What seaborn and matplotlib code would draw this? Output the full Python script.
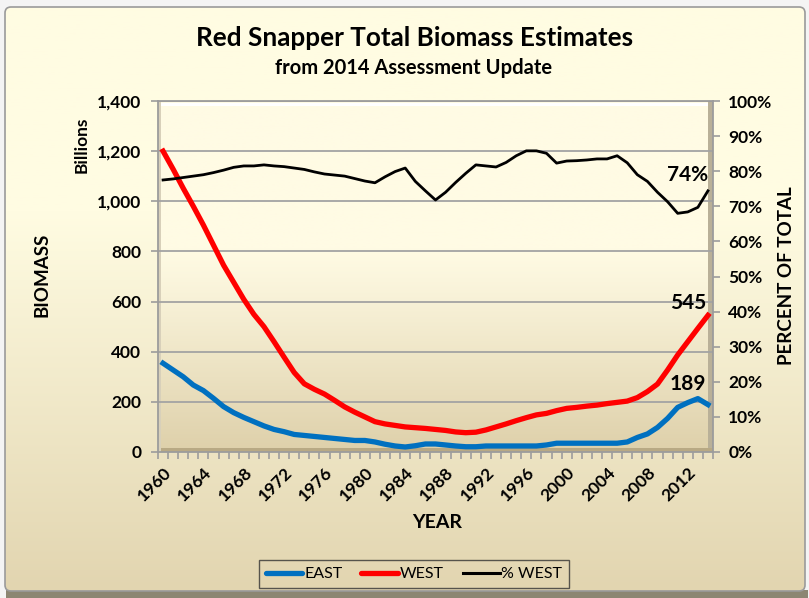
import numpy as np
import pandas as pd
import matplotlib
matplotlib.use("Agg")
import matplotlib.pyplot as plt
import seaborn as sns
from matplotlib.patches import FancyBboxPatch, Rectangle
from matplotlib.lines import Line2D
from matplotlib.ticker import FixedLocator, FuncFormatter

# ---------------- data ----------------
years = list(range(1960, 2015))
east = [354, 327, 300, 267, 245, 214, 181, 157, 138, 121,
        104, 90, 81, 70, 66, 62, 58, 54, 50, 46,
        46, 40, 31, 24, 20, 25, 32, 32, 28, 24,
        21, 21, 24, 24, 24, 24, 24, 24, 28, 35,
        35, 35, 35, 35, 35, 35, 40, 58, 72, 98,
        134, 178, 197, 213, 189]
west = [1200, 1128, 1052, 980, 905, 825, 745, 677, 609, 549,
        500, 440, 378, 317, 272, 250, 231, 206, 180, 159,
        140, 121, 112, 106, 100, 97, 94, 90, 86, 80,
        77, 79, 88, 100, 112, 125, 137, 148, 154, 165,
        174, 178, 183, 187, 193, 198, 203, 217, 241, 271,
        327, 387, 440, 493, 545]
pct_west = [77.5, 77.8, 78.2, 78.6, 79.0, 79.6, 80.3, 81.1, 81.5, 81.5,
            81.8, 81.5, 81.3, 80.9, 80.5, 79.8, 79.2, 78.9, 78.6, 77.9,
            77.2, 76.7, 78.4, 79.9, 80.9, 77.1, 74.4, 71.8, 74.0, 76.8,
            79.4, 81.8, 81.5, 81.2, 82.5, 84.4, 85.8, 85.8, 85.1, 82.3,
            82.9, 83.0, 83.2, 83.5, 83.5, 84.4, 82.4, 79.0, 77.1, 74.0,
            71.3, 68.0, 68.4, 69.7, 74.4]
year_labels = list(range(1960, 2013, 4))
left_ticks = list(range(0, 1401, 200))
right_ticks = list(range(0, 101, 10))
end_labels = ["189", "545", "74%"]

df = pd.DataFrame({"year": years, "EAST": east, "WEST": west, "% WEST": pct_west})

FONT = ["Lato", "DejaVu Sans"]
plt.rcParams["font.family"] = FONT

W, H = 809, 598
fig = plt.figure(figsize=(W / 100, H / 100), dpi=100)
fig.patch.set_facecolor("#F4F4F4")

def fx(px):
    return px / W

def fy(py):
    return 1 - py / H

# ---------------- figure background with border ----------------
bg = fig.add_axes([0, 0, 1, 1], zorder=-10)
bg.set_xlim(0, W)
bg.set_ylim(H, 0)
bg.axis("off")
grad = np.linspace(0, 1, 256).reshape(-1, 1)
top_c = np.array([255, 252, 226]) / 255
bot_c = np.array([226, 213, 176]) / 255
t = np.clip((grad - 0.35) / 0.65, 0, 1)
img = top_c * (1 - t)[..., None] + bot_c * t[..., None]
img = img.reshape(256, 1, 3)
shadow = Rectangle((6, 590), 802, 8, facecolor="#8C8672", edgecolor="none", zorder=0)
bg.add_patch(shadow)
frame = FancyBboxPatch((5, 7), 800, 584, boxstyle="round,pad=0,rounding_size=6",
                       facecolor="none", edgecolor="#9A9A9A", linewidth=1.2, zorder=3)
bg.add_patch(frame)
im = bg.imshow(img, extent=(5, 805, 591, 7), aspect="auto", zorder=1)
im.set_clip_path(frame)

# ---------------- plot area ----------------
ax = fig.add_axes([fx(158), fy(452), fx(713) - fx(158), fy(101) - fy(452)])
ax.set_facecolor("none")
pgrad = np.linspace(0, 1, 256)
tp = np.clip((pgrad - 0.42) / 0.58, 0, 1) ** 1.1
ptop = np.array([255, 251, 228]) / 255
pbot = np.array([222, 208, 170]) / 255
pimg = (ptop * (1 - tp)[:, None] + pbot * tp[:, None]).reshape(256, 1, 3)
ax.imshow(pimg, extent=(0, 1, 0, 1), origin="upper", transform=ax.transAxes,
          aspect="auto", zorder=0)
# bevel effects
ax.add_patch(Rectangle((0, 0.985), 1, 0.01, transform=ax.transAxes, facecolor="white",
                       edgecolor="none", zorder=0.5))
ax.add_patch(Rectangle((0.991, 0), 0.009, 1, transform=ax.transAxes, facecolor="#B9B098",
                       edgecolor="none", zorder=0.5))
ax.add_patch(Rectangle((0, 0), 1, 0.012, transform=ax.transAxes, facecolor="#B8A984",
                       edgecolor="none", zorder=0.5))
ax.add_patch(Rectangle((0, 0), 0.005, 1, transform=ax.transAxes, facecolor="#D8D0BA",
                       edgecolor="none", zorder=0.5))

for y in left_ticks[1:]:
    ax.axhline(y, color="#A3A3A3", lw=1.3, zorder=1)

sns.lineplot(data=df, x="year", y="EAST", ax=ax, color="#0070C0", linewidth=3.8,
             zorder=3, legend=False)
sns.lineplot(data=df, x="year", y="WEST", ax=ax, color="#FF0000", linewidth=3.8,
             zorder=3, legend=False)

ax.set_xlim(1959.5, 2014.5)
ax.set_ylim(0, 1400)
ax.set_xlabel("")
ax.set_ylabel("")

for s in ["top", "left", "right", "bottom"]:
    ax.spines[s].set_color("#9C9C9C")
    ax.spines[s].set_linewidth(1.3)

ax.yaxis.set_major_locator(FixedLocator(left_ticks))
ax.yaxis.set_major_formatter(FuncFormatter(lambda v, p: f"{int(v):,}"))
ax.tick_params(axis="y", direction="out", length=5, width=1.2, color="#9C9C9C",
               pad=7, labelsize=12.5)
for lab in ax.get_yticklabels():
    lab.set_fontweight("bold")

ax.xaxis.set_major_locator(FixedLocator(year_labels))
ax.xaxis.set_minor_locator(FixedLocator([y + 0.5 for y in range(1959, 2015)]))
ax.tick_params(axis="x", which="major", length=0, pad=9, labelsize=12.5)
ax.tick_params(axis="x", which="minor", direction="out", length=5, width=1.2,
               color="#9C9C9C")
ax.set_xticklabels([str(y) for y in year_labels], rotation=45, ha="right",
                   rotation_mode="anchor", fontweight="bold")

# ---------------- right axis ----------------
ax2 = ax.twinx()
ax2.set_facecolor("none")
sns.lineplot(data=df, x="year", y="% WEST", ax=ax2, color="black", linewidth=2.0,
             zorder=4, legend=False)
ax2.set_ylim(0, 100)
ax2.set_xlim(1959.5, 2014.5)
ax2.set_ylabel("")
ax2.yaxis.set_major_locator(FixedLocator(right_ticks))
ax2.yaxis.set_major_formatter(FuncFormatter(lambda v, p: f"{int(v)}%"))
ax2.tick_params(axis="y", direction="out", length=5, width=1.2, color="#9C9C9C",
                pad=6, labelsize=12.5)
for lab in ax2.get_yticklabels():
    lab.set_fontweight("bold")
for s in ["top", "left", "right", "bottom"]:
    ax2.spines[s].set_visible(False)

# end-value labels
ax.text(2012, 271, end_labels[0], ha="center", va="center", fontsize=15,
        fontweight="bold", zorder=6)
ax.text(2012, 594, end_labels[1], ha="center", va="center", fontsize=15,
        fontweight="bold", zorder=6)
ax2.text(2012, 78.8, end_labels[2], ha="center", va="center", fontsize=15,
         fontweight="bold", zorder=6)

# ---------------- titles and axis labels ----------------
fig.text(fx(415), fy(38), "Red Snapper Total Biomass Estimates", ha="center",
         va="center", fontsize=18.8, fontweight="bold")
fig.text(fx(414), fy(68), "from 2014 Assessment Update", ha="center", va="center",
         fontsize=14.5, fontweight="bold")
fig.text(fx(82), fy(145), "Billions", rotation=90, ha="center", va="center",
         fontsize=12.5, fontweight="bold")
fig.text(fx(42), fy(275), "BIOMASS", rotation=90, ha="center", va="center",
         fontsize=13.5, fontweight="bold")
fig.text(fx(787), fy(276), "PERCENT OF TOTAL", rotation=90, ha="center",
         va="center", fontsize=13.5, fontweight="bold")
fig.text(fx(437), fy(523), "YEAR", ha="center", va="center", fontsize=14,
         fontweight="bold")

# ---------------- legend ----------------
handles = [Line2D([], [], color="#0070C0", lw=3.8, solid_capstyle="round"),
           Line2D([], [], color="#FF0000", lw=3.8, solid_capstyle="round"),
           Line2D([], [], color="black", lw=2.2)]
leg = fig.legend(handles, ["EAST", "WEST", "% WEST"], loc="center",
                 bbox_to_anchor=(fx(414), fy(574)), ncol=3, frameon=True,
                 fontsize=11.5, handlelength=2.3, handletextpad=0.1,
                 columnspacing=1.2, borderpad=0.45, fancybox=False)
leg.get_frame().set_facecolor("none")
leg.get_frame().set_edgecolor("#333333")
leg.get_frame().set_linewidth(1.0)

fig.savefig("out.png", dpi=100)
